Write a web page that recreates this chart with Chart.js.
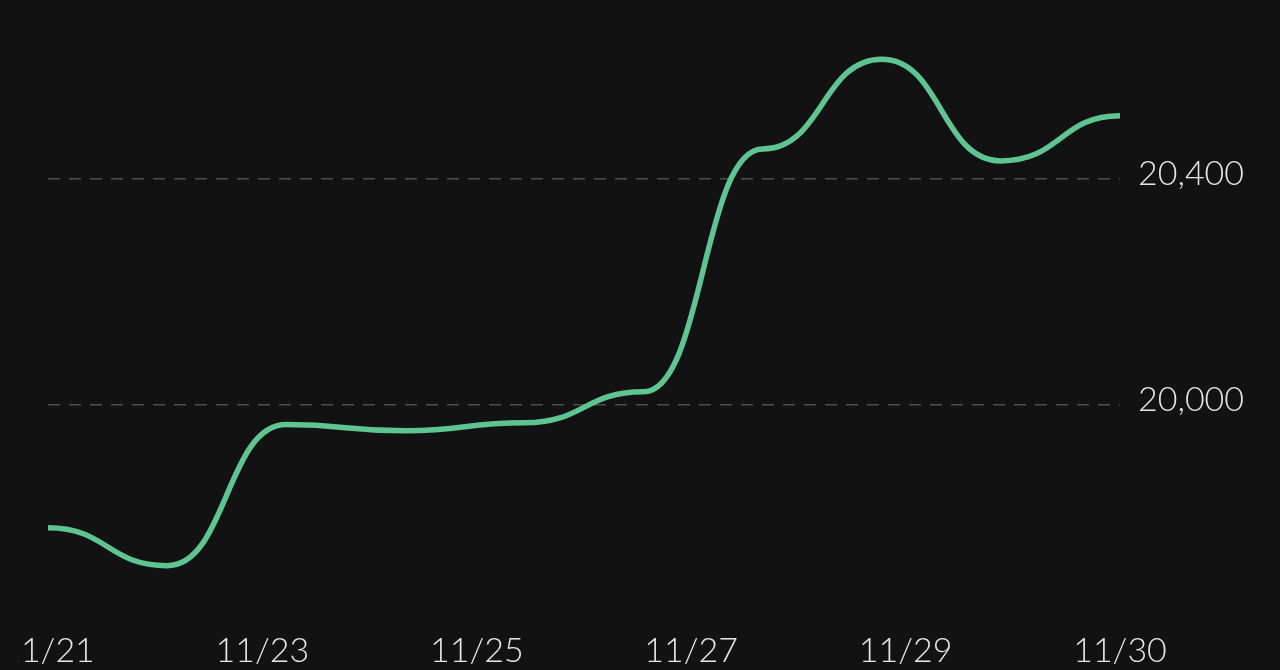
<!DOCTYPE html>
<html>
<head>
<meta charset="utf-8">
<script src="https://cdn.jsdelivr.net/npm/chart.js@4"></script>
<style>
  html, body { margin: 0; padding: 0; background: #121212; overflow: hidden; }
  /* the left edge of the first date label is cut off, like in the screenshot */
  #clip { position: absolute; left: 18px; top: 0; width: 1262px; height: 670px; overflow: hidden; }
  #wrap { position: absolute; left: -38px; top: 0; width: 1300px; height: 670px; }
</style>
</head>
<body>
<div id="clip"><div id="wrap"><canvas id="priceChart"></canvas></div></div>
<script>
// daily values, 11/21 .. 11/30
const days = ["11/21", "11/22", "11/23", "11/24", "11/25", "11/26", "11/27", "11/28", "11/29", "11/30"];
const values = [19782, 19715, 19965, 19954, 19968, 20023, 20453, 20612, 20432, 20512];

// labels shown under the axis (evenly spaced)
const xTickLabels = ["11/21", "11/23", "11/25", "11/27", "11/29", "11/30"];
const yTickValues = [20000, 20400];

const fontFamily = "Lato, 'Liberation Sans', sans-serif";

// horizontal tangents at every point (the "bump" style curve of the original)
const bumpCurve = {
  id: "bumpCurve",
  beforeDatasetDraw(chart, args) {
    const meta = args.meta;
    meta.dataset.updateControlPoints(chart.chartArea, meta.iScale.axis);
    const pts = meta.data;
    pts.forEach((p, i) => {
      const prev = pts[i - 1];
      const next = pts[i + 1];
      p.cp1x = prev ? (prev.x + p.x) / 2 : p.x;
      p.cp1y = p.y;
      p.cp2x = next ? (p.x + next.x) / 2 : p.x;
      p.cp2y = p.y;
    });
  },
};

const ctx = document.getElementById("priceChart").getContext("2d");

new Chart(ctx, {
  type: "line",
  data: {
    datasets: [
      {
        label: "price",
        data: values.map((v, i) => ({ x: i, y: v })),
        borderColor: "#5ec592",
        borderWidth: 5.5,
        pointRadius: 0,
        tension: 0.4,
        fill: false,
      },
    ],
  },
  options: {
    responsive: true,
    maintainAspectRatio: false,
    animation: false,
    layout: { padding: { left: 68, top: 0, right: 0, bottom: 0 } },
    plugins: {
      legend: { display: false },
      tooltip: { enabled: false },
    },
    scales: {
      x: {
        type: "linear",
        min: 0,
        max: days.length - 1,
        grid: { display: false, drawTicks: false },
        border: { display: false },
        afterBuildTicks: (scale) => {
          const n = xTickLabels.length - 1;
          scale.ticks = xTickLabels.map((_, i) => ({ value: (i * (days.length - 1)) / n }));
        },
        afterFit: (scale) => {
          scale.height = 49;
        },
        ticks: {
          autoSkip: false,
          maxRotation: 0,
          padding: 10,
          color: "#e6e6e6",
          font: { family: fontFamily, size: 34, weight: "300" },
          callback: (value, index) => xTickLabels[index],
        },
      },
      y: {
        position: "right",
        min: 19617,
        max: 20649,
        grid: { color: "#4d4d4d", lineWidth: 1.5, drawTicks: false },
        border: { display: false, dash: [12, 9] },
        afterBuildTicks: (scale) => {
          scale.ticks = yTickValues.map((v) => ({ value: v }));
        },
        afterFit: (scale) => {
          scale.width = 160;
        },
        ticks: {
          padding: 18,
          labelOffset: -5,
          color: "#e6e6e6",
          font: { family: fontFamily, size: 34, weight: "300" },
          callback: (value) => value.toLocaleString("en-US"),
        },
      },
    },
  },
  plugins: [bumpCurve],
});
</script>
</body>
</html>
